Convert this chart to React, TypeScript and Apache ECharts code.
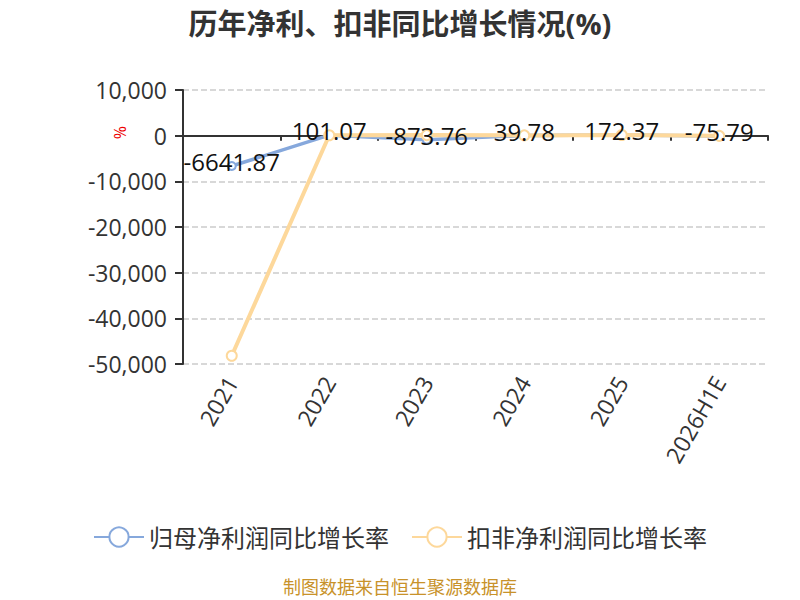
import React, { useEffect, useRef } from "react";
import * as echarts from "echarts";

const categories = ["2021", "2022", "2023", "2024", "2025", "2026H1E"];
const netProfitGrowth = [-6641.87, 101.07, -873.76, 39.78, 172.37, -75.79];
const deductedGrowth = [-48200, 95, 120, 60, 150, -40];
const seriesNames = ["归母净利润同比增长率", "扣非净利润同比增长率"];

export default function App() {
  const ref = useRef<HTMLDivElement>(null);
  useEffect(() => {
    const chart = echarts.init(ref.current!, null, { renderer: "svg" });
    const font = "'Open Sans','Noto Sans CJK SC',sans-serif";
    chart.setOption({
      animation: false,
      title: {
        text: "历年净利、扣非同比增长情况(%)",
        left: "center",
        top: 4,
        textStyle: { fontSize: 29, fontWeight: "bold", color: "#333", fontFamily: font },
      },
      legend: {
        bottom: 46,
        left: "center",
        itemWidth: 50,
        itemHeight: 24,
        itemGap: 22,
        textStyle: { fontSize: 24, color: "#333", fontFamily: font },
        data: seriesNames,
      },
      grid: { left: 183, right: 32, top: 90, bottom: 236 },
      xAxis: {
        type: "category",
        data: categories,
        axisLine: { onZero: true, lineStyle: { color: "#333", width: 2 } },
        axisTick: { show: true, lineStyle: { color: "#333", width: 2 } },
        axisLabel: { rotate: 60, fontSize: 23, color: "#333", fontFamily: font, margin: 14, interval: 0 },
      },
      yAxis: {
        type: "value",
        min: -50000,
        max: 10000,
        interval: 10000,
        axisLine: { show: true, lineStyle: { color: "#333", width: 2 } },
        axisTick: { show: true, length: 8, lineStyle: { color: "#333", width: 2 } },
        axisLabel: { fontSize: 23, color: "#333", fontFamily: font, margin: 16 },
        splitLine: { lineStyle: { type: "dashed", color: "#ccc", width: 1.5 } },
      },
      graphic: [
        {
          type: "text",
          x: 128,
          y: 126,
          rotation: -Math.PI / 2,
          style: { text: "%", fontSize: 16, fill: "#e00", fontFamily: font },
        },
        {
          type: "text",
          left: "center",
          top: 578,
          style: { text: "制图数据来自恒生聚源数据库", fontSize: 18, fill: "#c8922a", fontFamily: font },
        },
      ],
      series: [
        {
          name: seriesNames[0],
          type: "line",
          data: netProfitGrowth,
          symbol: "emptyCircle",
          symbolSize: 8,
          itemStyle: { color: "#86a8dc", borderWidth: 2 },
          lineStyle: { color: "#86a8dc", width: 3.5 },
          z: 2,
        },
        {
          name: seriesNames[1],
          type: "line",
          data: deductedGrowth,
          symbol: "emptyCircle",
          symbolSize: 10,
          itemStyle: { color: "#fdd89b", borderWidth: 2 },
          lineStyle: { color: "#fdd89b", width: 4 },
          z: 3,
        },
        {
          name: "labels",
          type: "line",
          data: netProfitGrowth,
          symbol: "circle",
          symbolSize: 1,
          showSymbol: true,
          itemStyle: { color: "rgba(0,0,0,0)", borderWidth: 0 },
          lineStyle: { opacity: 0 },
          silent: true,
          label: {
            show: true,
            position: "top",
            distance: -8,
            fontSize: 24,
            color: "#111",
            fontFamily: font,
            formatter: (p: any) => String(p.value.toFixed(2)),
          },
          z: 4,
        },
      ],
    });
    return () => chart.dispose();
  }, []);
  return <div ref={ref} style={{ width: 800, height: 600, position: "absolute", left: 0, top: 0 }} />;
}
